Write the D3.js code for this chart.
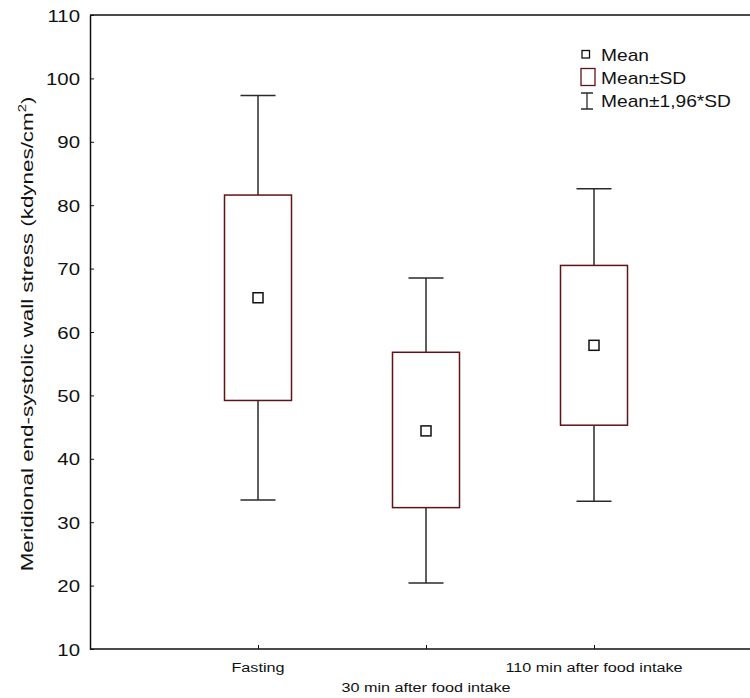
<!DOCTYPE html>
<html>
<head>
<meta charset="utf-8">
<script src="https://cdn.jsdelivr.net/npm/d3@7"></script>
<style>
  html, body { margin: 0; padding: 0; background: #fff; overflow: hidden; }
  svg { display: block; }
  text { font-family: "Liberation Sans", Arial, sans-serif; fill: #111; }
</style>
</head>
<body>
<script>
// values
const categories = ["Fasting", "30 min after food intake", "110 min after food intake"];
const means = [65.4, 44.4, 57.9];
const sdLow = [49.2, 32.3, 45.3];
const sdHigh = [81.6, 56.8, 70.5];
const ciLow = [33.5, 20.4, 33.3];
const ciHigh = [97.3, 68.5, 82.6];
const yTicks = [10, 20, 30, 40, 50, 60, 70, 80, 90, 100, 110];
const legendLabels = ["Mean", "Mean\u00b1SD", "Mean\u00b11,96*SD"];

const width = 750,
    height = 698,
    plotLeft = 90, plotTop = 15, plotRight = 762, plotBottom = 649;

const boxColor = "#5e1414",
    lineColor = "#2a2a2a",
    stretch = 1.2;

const svg = d3.select("body").append("svg")
    .attr("width", width)
    .attr("height", height);

const x = d3.scaleLinear().domain([0, 4]).range([plotLeft, plotRight]);
const y = d3.scaleLinear().domain([10, 110]).range([plotBottom, plotTop]);

const data = categories.map((c, i) => ({
  name: c, pos: i + 1, mean: means[i],
  lo: sdLow[i], hi: sdHigh[i], wlo: ciLow[i], whi: ciHigh[i]
}));

// open frame: top and bottom lines run off the right edge
svg.append("path")
    .attr("d", `M${plotLeft},${plotTop}H${width}M${plotLeft},${plotBottom}H${width}`)
    .attr("fill", "none").attr("stroke", "#111").attr("stroke-width", 1.5);

// y axis, ticks pointing inward
const yAxis = svg.append("g")
    .attr("transform", `translate(${plotLeft},0)`)
    .call(d3.axisRight(y).tickValues(yTicks).tickSize(4).tickSizeOuter(0).tickFormat(d3.format("d")));
yAxis.select(".domain").attr("stroke", "#111").attr("stroke-width", 1.5);
yAxis.selectAll(".tick line").attr("stroke", "#111");
yAxis.selectAll(".tick text")
    .attr("x", null).attr("dy", "0.36em")
    .attr("text-anchor", "end")
    .attr("font-size", 17)
    .attr("font-family", "Liberation Sans, Arial, sans-serif")
    .attr("fill", "#111")
    .attr("transform", `translate(-10,0) scale(${stretch},1)`);

// x axis: ticks pointing inward
const xAxis = svg.append("g")
    .attr("transform", `translate(0,${plotBottom})`)
    .call(d3.axisTop(x).tickValues([1, 2, 3]).tickSize(4).tickFormat(""));
xAxis.select(".domain").remove();
xAxis.selectAll(".tick line").attr("stroke", "#111");

// staggered category labels
svg.append("g").selectAll("text")
    .data(data)
    .enter().append("text")
    .attr("text-anchor", "middle")
    .attr("font-size", 13.5)
    .attr("transform", d => `translate(${x(d.pos)},${d.pos === 2 ? 692 : 672}) scale(${stretch},1)`)
    .text(d => d.name);

// y title
const title = svg.append("text")
    .attr("text-anchor", "middle")
    .attr("font-size", 16)
    .attr("transform", `translate(33,334) rotate(-90) scale(1.4,1)`);
title.append("tspan").text("Meridional end-systolic wall stress (kdynes/cm");
title.append("tspan").attr("font-size", 10.5).attr("dy", -7).text("2");
title.append("tspan").attr("dy", 7).text(")");

const boxW = 67, capW = 35, markW = 10;

const g = svg.selectAll(".group")
    .data(data)
    .enter().append("g")
    .attr("class", "group");

// whiskers from box edges to caps
g.append("line")
    .attr("x1", d => x(d.pos)).attr("x2", d => x(d.pos))
    .attr("y1", d => y(d.whi)).attr("y2", d => y(d.hi))
    .attr("stroke", lineColor).attr("stroke-width", 1.5);
g.append("line")
    .attr("x1", d => x(d.pos)).attr("x2", d => x(d.pos))
    .attr("y1", d => y(d.lo)).attr("y2", d => y(d.wlo))
    .attr("stroke", lineColor).attr("stroke-width", 1.5);
g.append("line")
    .attr("x1", d => x(d.pos) - capW / 2).attr("x2", d => x(d.pos) + capW / 2)
    .attr("y1", d => y(d.whi)).attr("y2", d => y(d.whi))
    .attr("stroke", lineColor).attr("stroke-width", 1.5);
g.append("line")
    .attr("x1", d => x(d.pos) - capW / 2).attr("x2", d => x(d.pos) + capW / 2)
    .attr("y1", d => y(d.wlo)).attr("y2", d => y(d.wlo))
    .attr("stroke", lineColor).attr("stroke-width", 1.5);

// SD boxes
g.append("rect")
    .attr("x", d => x(d.pos) - boxW / 2)
    .attr("width", boxW)
    .attr("y", d => y(d.hi))
    .attr("height", d => y(d.lo) - y(d.hi))
    .attr("fill", "#fff")
    .attr("stroke", boxColor).attr("stroke-width", 1.5);

// mean markers
g.append("rect")
    .attr("x", d => x(d.pos) - markW / 2)
    .attr("y", d => y(d.mean) - markW / 2)
    .attr("width", markW).attr("height", markW)
    .attr("fill", "#fff")
    .attr("stroke", "#111").attr("stroke-width", 1.5);

// legend
const legend = svg.append("g");
legend.append("rect")
    .attr("x", 582).attr("y", 50.5).attr("width", 7.5).attr("height", 7.5)
    .attr("fill", "#fff").attr("stroke", "#111").attr("stroke-width", 1.3);
legend.append("rect")
    .attr("x", 581).attr("y", 68.5).attr("width", 14).attr("height", 17)
    .attr("fill", "#fff").attr("stroke", boxColor).attr("stroke-width", 1.3);
legend.append("path")
    .attr("d", "M581,93H593M587,93V109M581,109H593")
    .attr("fill", "none").attr("stroke", lineColor).attr("stroke-width", 1.3);
legend.selectAll("text.leg")
    .data(legendLabels)
    .enter().append("text")
    .attr("class", "leg")
    .attr("font-size", 16)
    .attr("transform", (d, i) => `translate(601,${61 + i * 23}) scale(${stretch},1)`)
    .text(d => d);
</script>
</body>
</html>
